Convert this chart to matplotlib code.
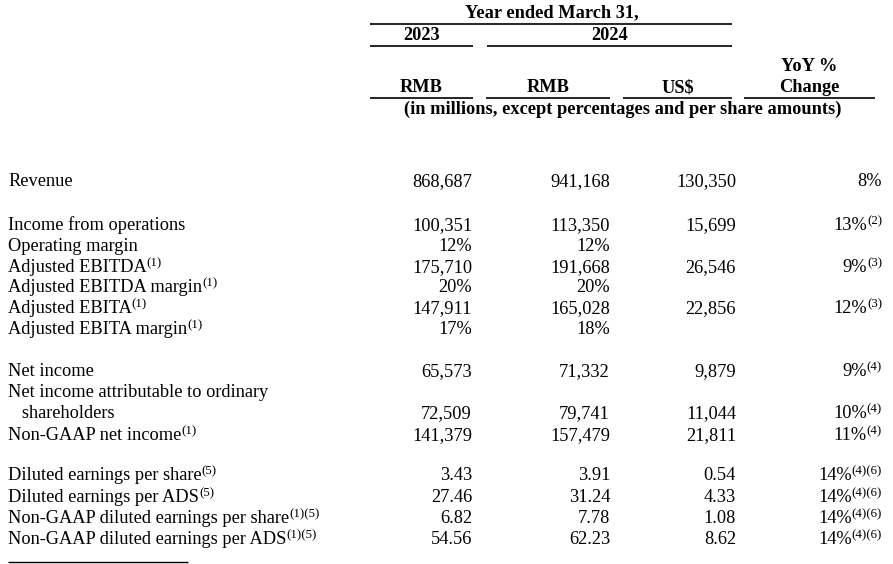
import matplotlib
matplotlib.use("Agg")
import matplotlib.pyplot as plt

plt.rcParams['font.family'] = ['Liberation Serif', 'DejaVu Serif']

# ---------------- data ----------------
labels = [
    "Revenue",
    "Income from operations",
    "Operating margin",
    "Adjusted EBITDA",
    "Adjusted EBITDA margin",
    "Adjusted EBITA",
    "Adjusted EBITA margin",
    "Net income",
    "Net income attributable to ordinary\n   shareholders",
    "Non-GAAP net income",
    "Diluted earnings per share",
    "Diluted earnings per ADS",
    "Non-GAAP diluted earnings per share",
    "Non-GAAP diluted earnings per ADS",
]
label_notes = ["", "", "", "(1)", "(1)", "(1)", "(1)", "", "", "(1)",
               "(5)", "(5)", "(1)(5)", "(1)(5)"]
row_kind = ["int", "int", "pct", "int", "pct", "int", "pct", "int", "int", "int",
            "dec", "dec", "dec", "dec"]
rmb_2023 = [868687, 100351, 12, 175710, 20, 147911, 17, 65573, 72509, 141379,
            3.43, 27.46, 6.82, 54.56]
rmb_2024 = [941168, 113350, 12, 191668, 20, 165028, 18, 71332, 79741, 157479,
            3.91, 31.24, 7.78, 62.23]
usd_2024 = [130350, 15699, None, 26546, None, 22856, None, 9879, 11044, 21811,
            0.54, 4.33, 1.08, 8.62]
yoy_pct = [8, 13, None, 9, None, 12, None, 9, 10, 11, 14, 14, 14, 14]
yoy_notes = ["", "(2)", "", "(3)", "", "(3)", "", "(4)", "(4)", "(4)",
             "(4)(6)", "(4)(6)", "(4)(6)", "(4)(6)"]

header_title = "Year ended March 31,"
years = ["2023", "2024"]
currencies = ["RMB", "RMB", "US$"]
yoy_header = ["YoY %", "Change"]
unit_note = "(in millions, except percentages and per share amounts)"

# ---------------- layout ----------------
W, H = 893, 564
fig = plt.figure(figsize=(W / 100, H / 100), dpi=100)
ax = fig.add_axes([0, 0, 1, 1])
ax.set_xlim(0, W)
ax.set_ylim(H, 0)
ax.axis('off')
renderer = fig.canvas.get_renderer()

FS = 13.2
SFS = 9.3
RAISE = 5.5
row_y = [186, 230, 251, 272, 292, 313, 334, 376, 418, 440, 480, 502, 523, 544]
x_label = 8
x_2023 = 472
x_2024 = 610
x_usd = 736
x_yoy = 882


def fmt(v, kind):
    if v is None:
        return ""
    if kind == "int":
        return f"{v:,.0f}"
    if kind == "pct":
        return f"{v:.0f}%"
    return f"{v:.2f}"


def width(t):
    bb = t.get_window_extent(renderer)
    return bb.width


def text_left(x, y, s, note):
    t = ax.text(x, y, s, fontsize=FS, va='baseline', ha='left')
    if note:
        ax.text(x + width(t), y - RAISE, note, fontsize=SFS,
                va='baseline', ha='left')


def text_right(x, y, s, note):
    if note:
        t = ax.text(x, y - RAISE, note, fontsize=SFS, va='baseline', ha='right')
        x = x - width(t)
    ax.text(x, y, s, fontsize=FS, va='baseline', ha='right')


# header
bold = dict(fontsize=FS, fontweight='bold', va='baseline', ha='center')
ax.text(552, 17, header_title, **bold)
ax.hlines(23.5, 370, 732, color='black', lw=1.2)
ax.text(421.5, 40, years[0], **bold)
ax.text(609.5, 40, years[1], **bold)
ax.hlines(45.5, 370, 473, color='black', lw=1.2)
ax.hlines(45.5, 487, 732, color='black', lw=1.2)
ax.text(809.5, 71, yoy_header[0], **bold)
ax.text(809.5, 92, yoy_header[1], **bold)
for cx, c in zip([421.5, 548, 677.5], currencies):
    ax.text(cx, 92, c, **bold)
for x0, x1 in [(370, 473), (486, 610), (623, 732), (744, 875)]:
    ax.hlines(97.5, x0, x1, color='black', lw=1.2)
ax.text(622.5, 114, unit_note, **bold)

# body
for i, lab in enumerate(labels):
    y = row_y[i]
    kind = row_kind[i]
    if "\n" in lab:
        first, second = lab.split("\n")
        ax.text(x_label, y - 21, first, fontsize=FS, va='baseline', ha='left')
        text_left(x_label, y, second, label_notes[i])
    else:
        text_left(x_label, y, lab, label_notes[i])
    ax.text(x_2023, y, fmt(rmb_2023[i], kind), fontsize=FS, va='baseline', ha='right')
    ax.text(x_2024, y, fmt(rmb_2024[i], kind), fontsize=FS, va='baseline', ha='right')
    ax.text(x_usd, y, fmt(usd_2024[i], kind), fontsize=FS, va='baseline', ha='right')
    if yoy_pct[i] is not None:
        text_right(x_yoy, y, f"{yoy_pct[i]}%", yoy_notes[i])

ax.hlines(561.5, 8, 188, color='black', lw=1.0)

fig.savefig("out.png", dpi=100, facecolor='white')
